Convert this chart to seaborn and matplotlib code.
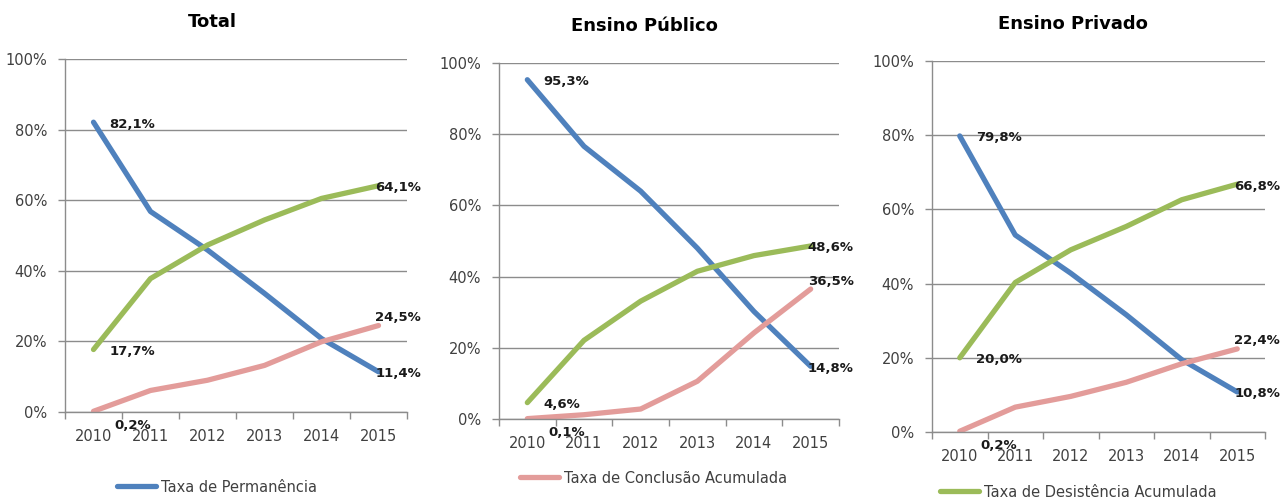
import numpy as np
import pandas as pd
import matplotlib
matplotlib.use("Agg")
import matplotlib.pyplot as plt
from matplotlib.lines import Line2D
from matplotlib.ticker import FixedLocator, FuncFormatter
import seaborn as sns

# =============================================================================
# Data (percent)
# =============================================================================

years = ["2010", "2011", "2012", "2013", "2014", "2015"]
series_names = ["Taxa de Permanência", "Taxa de Conclusão Acumulada", "Taxa de Desistência Acumulada"]
panel_titles = ["Total", "Ensino Público", "Ensino Privado"]

total_permanencia = [82.1, 56.8, 45.9, 33.6, 20.8, 11.4]
total_conclusao = [0.2, 6.1, 9.0, 13.2, 19.9, 24.5]
total_desistencia = [17.7, 37.8, 47.3, 54.4, 60.5, 64.1]

publico_permanencia = [95.3, 76.6, 64.0, 48.0, 30.2, 14.8]
publico_conclusao = [0.1, 1.2, 2.8, 10.6, 24.2, 36.5]
publico_desistencia = [4.6, 22.1, 33.1, 41.5, 45.9, 48.6]

privado_permanencia = [79.8, 53.1, 42.8, 31.6, 19.5, 10.8]
privado_conclusao = [0.2, 6.7, 9.6, 13.4, 18.4, 22.4]
privado_desistencia = [20.0, 40.3, 49.1, 55.4, 62.6, 66.8]

colors = ["#4F81BD", "#E39C9A", "#9BBB59"]

panels = [
    [total_permanencia, total_conclusao, total_desistencia],
    [publico_permanencia, publico_conclusao, publico_desistencia],
    [privado_permanencia, privado_conclusao, privado_desistencia],
]

# =============================================================================
# Layout (figure fractions, measured off the reference)
# =============================================================================

W, H = 1280, 498
axes_px = [(65, 59, 407, 412), (499, 63, 839, 419), (932, 61, 1265, 432)]
title_px = [(212, 22), (644, 26), (1073, 24)]
legend_px = [(117, 487), (520, 478), (940, 492)]

sns.set_style("white")
plt.rcParams["font.family"] = ["DejaVu Sans"]

fig = plt.figure(figsize=(W / 100, H / 100), dpi=100)

grid_color = "#8C8C8C"
text_color = "#404040"


def fmt_label(v):
    return f"{v:.1f}".replace(".", ",") + "%"


for i, (values, (l, t, r, b)) in enumerate(zip(panels, axes_px)):
    ax = fig.add_axes([l / W, 1 - b / H, (r - l) / W, (b - t) / H])

    df = pd.DataFrame({
        "ano": years * 3,
        "valor": values[0] + values[1] + values[2],
        "serie": np.repeat(series_names, len(years)),
    })
    sns.lineplot(
        data=df, x="ano", y="valor", hue="serie",
        hue_order=series_names, palette=colors,
        linewidth=3.8, legend=False, sort=False, ax=ax,
        solid_capstyle="round",
    )

    ax.set_xlim(-0.5, len(years) - 0.5)
    ax.set_ylim(0, 100)
    ax.set_xlabel("")
    ax.set_ylabel("")

    # y axis
    ax.yaxis.set_major_locator(FixedLocator([0, 20, 40, 60, 80, 100]))
    ax.yaxis.set_major_formatter(FuncFormatter(lambda v, p: f"{v:.0f}%"))
    ax.yaxis.grid(True, color=grid_color, linewidth=1)
    ax.tick_params(axis="y", length=5, width=1, color=grid_color, pad=8,
                   labelsize=10.5, labelcolor=text_color, left=True)

    # x axis: labels at categories, tick marks between
    ax.set_xticks(range(len(years)))
    ax.set_xticklabels(years)
    ax.set_xticks(np.arange(-0.5, len(years), 1.0), minor=True)
    ax.tick_params(axis="x", which="major", length=0, pad=12,
                   labelsize=10.5, labelcolor=text_color)
    ax.tick_params(axis="x", which="minor", length=5, width=1,
                   color=grid_color, bottom=True)

    for side in ["top", "right"]:
        ax.spines[side].set_visible(False)
    for side in ["left", "bottom"]:
        ax.spines[side].set_color(grid_color)
        ax.spines[side].set_linewidth(1)

    # data labels at first and last points
    for k, series in enumerate(values):
        if k == 1:
            first_off, last_off = (21, -14), (-3, 8)
        else:
            first_off, last_off = (16, -2), (-3, -2)
        ax.annotate(fmt_label(series[0]), (0, series[0]), xytext=first_off,
                    textcoords="offset pixels", ha="left", va="center",
                    fontsize=9.5, fontweight="bold", color="#1a1a1a",
                    annotation_clip=False)
        ax.annotate(fmt_label(series[-1]), (len(years) - 1, series[-1]), xytext=last_off,
                    textcoords="offset pixels", ha="left", va="center",
                    fontsize=9.5, fontweight="bold", color="#1a1a1a",
                    annotation_clip=False)

    tx, ty = title_px[i]
    fig.text(tx / W, 1 - ty / H, panel_titles[i], ha="center", va="center",
             fontsize=13, fontweight="bold", color="black")

    lx, ly = legend_px[i]
    handle = Line2D([0], [0], color=colors[i], linewidth=3.8, solid_capstyle="round")
    leg = ax.legend(
        handles=[handle], labels=[series_names[i]],
        loc="center left", bbox_to_anchor=(lx / W, 1 - ly / H),
        bbox_transform=fig.transFigure, frameon=False,
        borderpad=0, borderaxespad=0, handlelength=2.7, handletextpad=0.3,
        fontsize=10.5,
    )
    for txt in leg.get_texts():
        txt.set_color(text_color)

fig.savefig("out.png", dpi=100)
